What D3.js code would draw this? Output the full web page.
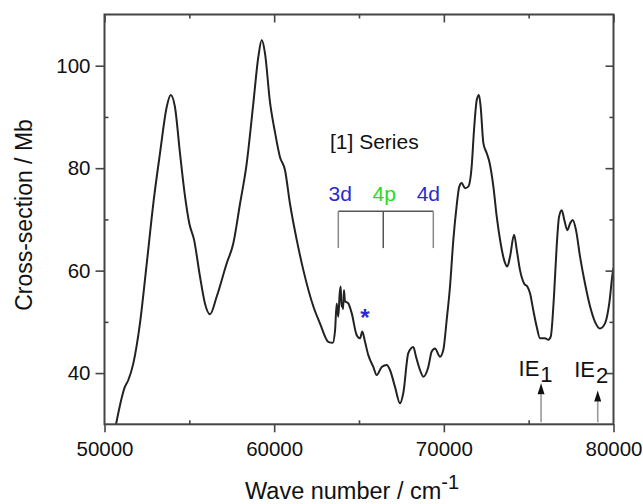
<!DOCTYPE html>
<html>
<head>
<meta charset="utf-8">
<script src="https://cdn.jsdelivr.net/npm/d3@7"></script>
<style>
  html, body { margin: 0; padding: 0; background: #fff; }
  svg { display: block; font-family: "Liberation Sans", Arial, sans-serif; }
</style>
</head>
<body>
<svg id="chart" width="643" height="504"></svg>
<script>
// ---- data ----
const waveNumber = [
  50680, 51200, 51400, 51700, 52090, 52490, 52880, 53270, 53670, 53900,
  54150, 54450, 54750, 55000, 55280, 55630, 55920, 56220, 56610, 57200,
  57590, 57990, 58380, 58770, 59070, 59270, 59460, 59750, 60050, 60340,
  60640, 60930, 61330, 61720, 62310, 62700, 63190, 63450, 63590, 63686,
  63780, 63860, 63922, 63970, 64016, 64060, 64116, 64170, 64234, 64370,
  64570, 64865, 65060, 65195, 65354, 65549, 65843, 66043, 66338, 66633,
  66827, 67122, 67417, 67611, 67906, 68201, 68360, 68596, 68790, 69085,
  69285, 69480, 69775, 69969, 70169, 70364, 70560, 70750, 70910, 71050,
  71250, 71440, 71640, 71780, 71940, 72070, 72170, 72330, 72530, 72680,
  72920, 73120, 73350, 73550, 73740, 73900, 74140, 74300, 74490, 74730,
  74920, 75080, 75270, 75470, 75670, 75960, 76160, 76300, 76490, 76650,
  76790, 76950, 77100, 77280, 77440, 77600, 77790, 78030, 78320, 78620,
  78910, 79200, 79500, 79750, 79950, 80000
];
const crossSection = [
  30.0, 37.3, 38.6, 41.9, 49.7, 61.4, 73.2, 82.9, 92.0, 94.3,
  92.0, 82.9, 74.4, 69.2, 66.0, 58.8, 53.6, 51.5, 54.9, 61.4,
  65.3, 73.1, 80.9, 92.6, 101.8, 105.0, 102.4, 93.0, 87.0, 82.2,
  79.6, 73.1, 66.0, 60.1, 53.0, 49.7, 46.1, 45.9, 48.4, 53.6,
  51.0, 55.5, 56.9, 53.0, 53.6, 52.5, 56.2, 54.0, 53.9, 53.6,
  51.7, 47.4, 46.8, 48.1, 46.1, 43.5, 41.2, 39.6, 41.2, 41.6,
  40.6, 37.3, 34.1, 36.1, 43.9, 45.1, 43.2, 40.6, 39.3, 41.2,
  44.2, 44.8, 43.2, 44.5, 50.4, 56.9, 66.0, 72.5, 76.4, 77.1,
  76.1, 76.4, 80.3, 87.5, 93.3, 94.3, 92.0, 84.9, 82.9, 81.3,
  76.4, 70.5, 65.3, 62.1, 60.8, 62.7, 67.0, 64.0, 60.1, 57.5,
  56.9, 55.6, 52.3, 49.1, 46.8, 46.8, 46.5, 47.1, 54.9, 64.7,
  70.5, 71.8, 69.9, 67.9, 69.2, 69.9, 67.9, 62.7, 57.5, 53.0,
  50.0, 48.7, 49.7, 53.6, 59.5, 60.5
];
const xTicks = [50000, 60000, 70000, 80000];
const xMinorTicks = [55000, 65000, 75000];
const yTicks = [40, 60, 80, 100];
const yMinorTicks = [50, 70, 90];
const xDomain = [50000, 80000];
const yDomain = [30, 110];

// series annotation
const seriesTitle = "[1] Series";
const seriesLabels = ["3d", "4p", "4d"];
const seriesColors = ["#2a2ad0", "#22dd22", "#2a2ad0"];
const seriesPositions = [63780, 66430, 69380];
const bracketTop = 71.6, bracketBottom = 64.4;
const starPoint = {x: 65350, y: 51.3};
// ionisation energies
const ieLabels = ["1", "2"];
const iePositions = [75730, 79070];
const ieTips = [38.0, 36.6];

// ---- layout ----
const svg = d3.select("#chart");
const L = 104.5, R = 613.5, T = 14.5, B = 424.3;
const x = d3.scaleLinear().domain(xDomain).range([L, R]);
const y = d3.scaleLinear().domain(yDomain).range([B, T]);
const axisColor = "#444";
const fontTick = 20.5;

svg.append("defs").append("clipPath").attr("id", "clip")
  .append("rect").attr("x", L).attr("y", T).attr("width", R - L).attr("height", B - T);

// curve
const line = d3.line()
  .x((d, i) => x(waveNumber[i]))
  .y((d, i) => y(crossSection[i]))
  .curve(d3.curveMonotoneX);
svg.append("path")
  .datum(crossSection)
  .attr("clip-path", "url(#clip)")
  .attr("d", line)
  .attr("fill", "none")
  .attr("stroke", "#222")
  .attr("stroke-width", 2)
  .attr("stroke-linejoin", "round");

// axes
function styleAxis(g) {
  g.select(".domain").remove();
  g.selectAll("line").attr("stroke", axisColor).attr("stroke-width", 1.6);
  g.selectAll("text").attr("fill", "#111").style("font-size", fontTick + "px")
    .style("font-family", '"Liberation Sans", Arial, sans-serif');
}
svg.append("g").attr("transform", `translate(0,${B})`)
  .call(d3.axisBottom(x).tickValues(xTicks).tickSize(8).tickPadding(9).tickFormat(d3.format("d")))
  .call(styleAxis);
svg.append("g").attr("transform", `translate(0,${B})`)
  .call(d3.axisBottom(x).tickValues(xMinorTicks).tickSize(-4).tickFormat(""))
  .call(styleAxis);
svg.append("g").attr("transform", `translate(${L},0)`)
  .call(d3.axisLeft(y).tickValues(yTicks).tickSize(9).tickPadding(5).tickFormat(d3.format("d")))
  .call(styleAxis);
svg.append("g").attr("transform", `translate(${L},0)`)
  .call(d3.axisLeft(y).tickValues(yMinorTicks).tickSize(-4).tickFormat(""))
  .call(styleAxis);
svg.append("g").attr("transform", `translate(0,${T})`)
  .call(d3.axisTop(x).tickValues(xTicks).tickSize(-8).tickFormat(""))
  .call(styleAxis);
svg.append("g").attr("transform", `translate(0,${T})`)
  .call(d3.axisTop(x).tickValues(xMinorTicks).tickSize(-4).tickFormat(""))
  .call(styleAxis);
svg.append("g").attr("transform", `translate(${R},0)`)
  .call(d3.axisRight(y).tickValues(yTicks).tickSize(-8).tickFormat(""))
  .call(styleAxis);
svg.append("g").attr("transform", `translate(${R},0)`)
  .call(d3.axisRight(y).tickValues(yMinorTicks).tickSize(-4).tickFormat(""))
  .call(styleAxis);

// frame
svg.append("rect").attr("x", L).attr("y", T).attr("width", R - L).attr("height", B - T)
  .attr("fill", "none").attr("stroke", axisColor).attr("stroke-width", 2);

// axis titles
const xt = svg.append("text").attr("x", 245).attr("y", 498.5)
  .attr("fill", "#111").style("font-size", "23.5px");
xt.append("tspan").text("Wave number / cm");
xt.append("tspan").attr("dy", -10).style("font-size", "20px").text("-1");

svg.append("text")
  .attr("transform", `translate(32,215) rotate(-90)`)
  .attr("text-anchor", "middle").attr("fill", "#111")
  .style("font-size", "23px").text("Cross-section / Mb");

// series annotation
svg.append("text").attr("x", 330).attr("y", 149)
  .attr("fill", "#111").style("font-size", "21px").text(seriesTitle);
svg.selectAll(".slab").data(seriesLabels).enter().append("text")
  .attr("x", (d, i) => x(seriesPositions[i]) + (i === 0 ? 2 : (i === 2 ? -5 : 1)))
  .attr("y", 201)
  .attr("text-anchor", "middle")
  .attr("fill", (d, i) => seriesColors[i])
  .style("font-size", "21px")
  .text(d => d);
svg.append("line")
  .attr("x1", x(seriesPositions[0])).attr("x2", x(seriesPositions[2]))
  .attr("y1", y(bracketTop)).attr("y2", y(bracketTop))
  .attr("stroke", "#555").attr("stroke-width", 1.5);
svg.selectAll(".stick").data(seriesPositions).enter().append("line")
  .attr("x1", d => x(d)).attr("x2", d => x(d))
  .attr("y1", y(bracketTop)).attr("y2", y(bracketBottom))
  .attr("stroke", (d, i) => i === 1 ? "#555" : "#888").attr("stroke-width", 1.5);
svg.append("text").attr("x", x(starPoint.x)).attr("y", y(starPoint.y) + 11)
  .attr("text-anchor", "middle").attr("fill", "#2a2ad0")
  .style("font-size", "24px").style("font-weight", "bold").text("*");

// IE arrows
iePositions.forEach((p, i) => {
  svg.append("line")
    .attr("x1", x(p)).attr("x2", x(p))
    .attr("y1", B - 2).attr("y2", y(ieTips[i]) + 11)
    .attr("stroke", "#999").attr("stroke-width", 1.6);
  svg.append("path")
    .attr("d", `M${x(p)},${y(ieTips[i])} l-3.5,11 l7,0 Z`)
    .attr("fill", "#111");
  const t = svg.append("text")
    .attr("x", x(p) - (i === 0 ? 22.5 : 23.5)).attr("y", i === 0 ? 376 : 377)
    .attr("fill", "#111").style("font-size", "22px");
  t.append("tspan").text("IE");
  t.append("tspan").attr("dy", 6).attr("dx", 1).text(ieLabels[i]);
});
</script>
</body>
</html>
